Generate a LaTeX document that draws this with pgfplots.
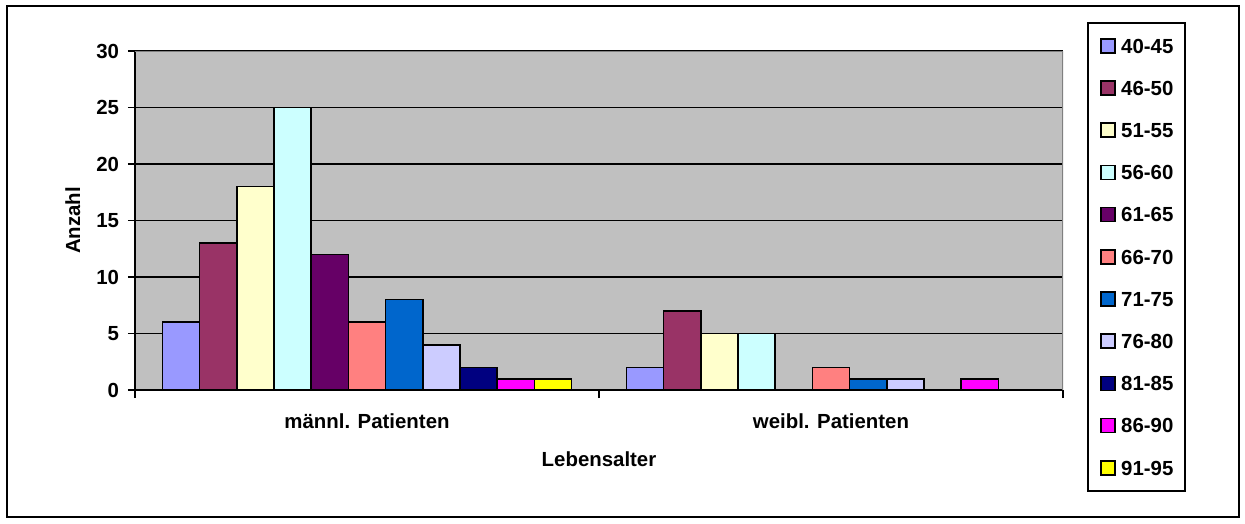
\documentclass[border=0pt]{standalone}
\usepackage{pgfplots}
\pgfplotsset{compat=1.18}
\usepackage{fontspec}
\setmainfont{Liberation Sans}

% Excel default palette
\definecolor{c1}{HTML}{9999FF}
\definecolor{c2}{HTML}{993366}
\definecolor{c3}{HTML}{FFFFCC}
\definecolor{c4}{HTML}{CCFFFF}
\definecolor{c5}{HTML}{660066}
\definecolor{c6}{HTML}{FF8080}
\definecolor{c7}{HTML}{0066CC}
\definecolor{c8}{HTML}{CCCCFF}
\definecolor{c9}{HTML}{000080}
\definecolor{c10}{HTML}{FF00FF}
\definecolor{c11}{HTML}{FFFF00}
\definecolor{bgray}{HTML}{C0C0C0}
\definecolor{bord}{HTML}{808080}

\newcommand\lab{\bfseries\fontsize{10.2bp}{12bp}\selectfont}

\begin{document}
\begin{tikzpicture}
\useasboundingbox (-67.5bp,-67bp) rectangle (555bp,195bp);
\draw[line width=1bp] (-64bp,-63.5bp) rectangle (551.75bp,191.75bp);
\begin{axis}[
  scale only axis, width=464bp, height=169.5bp,
  ybar=0pt, bar width=18.6bp,
  xmin=-0.5, xmax=1.5, ymin=0, ymax=30, enlargelimits=false,
  axis background/.style={fill=bgray},
  axis lines*=left,
  axis line style={line width=1bp, black},
  tick align=outside,
  major tick length=3.5bp, minor tick length=4bp,
  every tick/.append style={black, line width=0.8bp},
  every major x tick/.append style={draw=none},
  xtick={0,1}, minor xtick={-0.5,0.5,1.5},
  xticklabels={männl. Patienten, weibl. Patienten},
  ytick={0,5,...,30},
  ymajorgrids, major grid style={black, line width=0.8bp},
  /pgf/number format/assume math mode=true,
  tick label style={font=\lab},
  xticklabel style={anchor=base, inner sep=0pt, yshift=-15.65bp},
  yticklabel style={anchor=east, inner sep=0pt, xshift=-4.3bp},
  xlabel={Lebensalter}, ylabel={Anzahl},
  label style={font=\lab},
  xlabel style={at={(axis description cs:0.5,-0.2263)}, anchor=base},
  ylabel style={at={(axis description cs:-0.067,0.5)}, anchor=center},
  every axis plot/.append style={draw=black, line width=0.8bp},
  every axis plot post/.append style={
    legend image code/.code={\draw[##1, line width=0.8bp] (0bp,-3.5bp) rectangle (7bp,3.5bp);}},
  legend cell align=left,
  legend style={at={(axis description cs:1.0259,1.0855)}, anchor=north west,
    draw=black, line width=1bp, fill=white,
    inner xsep=6bp, inner ysep=7.5bp, row sep=13.3bp, font=\lab,
    nodes={inner sep=0pt, text height=7.3bp, text depth=0pt},
    /tikz/every odd column/.style={column sep=2.8bp}},
]
\addplot[fill=c1]  coordinates {(0,6)  (1,2)};
\addplot[fill=c2]  coordinates {(0,13) (1,7)};
\addplot[fill=c3]  coordinates {(0,18) (1,5)};
\addplot[fill=c4]  coordinates {(0,25) (1,5)};
\addplot[fill=c5]  coordinates {(0,12) (1,0)};
\addplot[fill=c6]  coordinates {(0,6)  (1,2)};
\addplot[fill=c7]  coordinates {(0,8)  (1,1)};
\addplot[fill=c8]  coordinates {(0,4)  (1,1)};
\addplot[fill=c9]  coordinates {(0,2)  (1,0)};
\addplot[fill=c10] coordinates {(0,1)  (1,1)};
\addplot[fill=c11] coordinates {(0,1)  (1,0)};
\legend{40-45,46-50,51-55,56-60,61-65,66-70,71-75,76-80,81-85,86-90,91-95}
\draw[bord, line width=1bp] (rel axis cs:0,1) -- (rel axis cs:1,1) -- (rel axis cs:1,0);
\end{axis}
\end{tikzpicture}
\end{document}
